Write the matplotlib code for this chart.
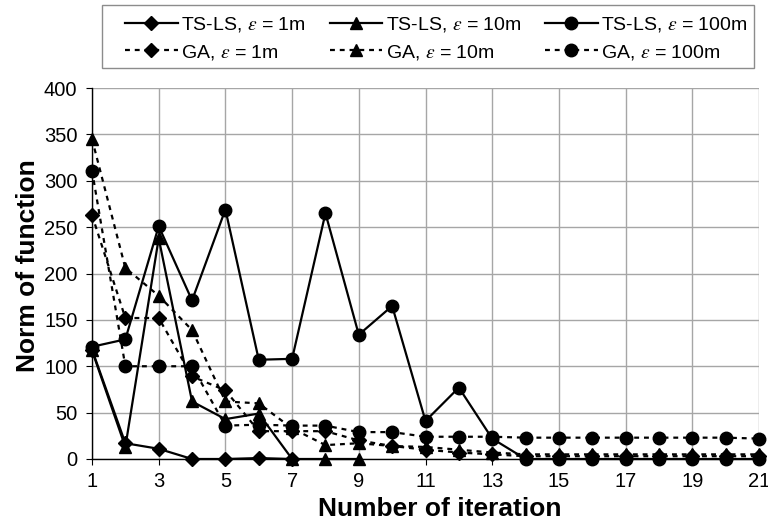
import matplotlib
matplotlib.use("Agg")
import matplotlib.pyplot as plt
from matplotlib.patches import Rectangle

plt.rcParams['font.family'] = ['Liberation Sans', 'DejaVu Sans']
plt.rcParams['mathtext.fontset'] = 'stix'

iters = list(range(1, 22))

ts_1m = [118, 17, 11, 0, 0, 1, 0]
ts_10m = [117, 13, 238, 62, 43, 49, 0, 0, 0]
ts_100m = [121, 129, 251, 171, 269, 107, 108, 265, 134, 165, 41, 77, 22,
           0, 0, 0, 0, 0, 0, 0, 0]
ga_1m = [263, 152, 152, 89, 74, 30, 30, 30, 20, 14, 10, 7, 5,
         3, 3, 3, 3, 3, 3, 3, 3]
ga_10m = [345, 206, 176, 139, 62, 60, 33, 15, 17, 14, 13, 10, 7,
          5, 5, 5, 5, 5, 5, 5, 5]
ga_100m = [311, 100, 100, 100, 36, 37, 36, 36, 29, 29, 24, 24, 24,
           23, 23, 23, 23, 23, 23, 23, 22]

labels_ts = [r'TS-LS, $\varepsilon$ = 1m', r'TS-LS, $\varepsilon$ = 10m', r'TS-LS, $\varepsilon$ = 100m']
labels_ga = [r'GA, $\varepsilon$ = 1m', r'GA, $\varepsilon$ = 10m', r'GA, $\varepsilon$ = 100m']

W, H = 768, 524
fig = plt.figure(figsize=(W/100, H/100), dpi=100)
ax = fig.add_axes([92/W, 1-459/H, (759-92)/W, (459-88)/H])

lw = 1.6
dash = (0, (2.2, 2.2))
ms = {'D': 7.5, '^': 9, 'o': 9}

h = {}
series = [
    ('ts1', ts_1m, 'D', '-', labels_ts[0]),
    ('ts10', ts_10m, '^', '-', labels_ts[1]),
    ('ts100', ts_100m, 'o', '-', labels_ts[2]),
    ('ga1', ga_1m, 'D', dash, labels_ga[0]),
    ('ga10', ga_10m, '^', dash, labels_ga[1]),
    ('ga100', ga_100m, 'o', dash, labels_ga[2]),
]
for key, vals, mk, ls, lab in series:
    ln, = ax.plot(iters[:len(vals)], vals, color='black', linestyle=ls, lw=lw,
                  marker=mk, markersize=ms[mk], markerfacecolor='black',
                  markeredgecolor='black', label=lab, clip_on=False, zorder=3)
    h[key] = ln

ax.set_xlim(1, 21)
ax.set_ylim(0, 400)
ax.set_xticks(range(1, 22, 2))
ax.set_yticks(range(0, 401, 50))
ax.grid(True, color='#a6a6a6', lw=1.0, zorder=0)
ax.set_axisbelow(True)
for s in ['top', 'right']:
    ax.spines[s].set_visible(False)
for s in ['left', 'bottom']:
    ax.spines[s].set_color('black')
    ax.spines[s].set_linewidth(1.0)
ax.tick_params(axis='both', labelsize=14.5, direction='out', length=4.5, color='black')
ax.tick_params(axis='y', pad=6)
ax.tick_params(axis='x', pad=5)
ax.set_xlabel('Number of iteration', fontsize=19, fontweight='bold')
ax.set_ylabel('Norm of function', fontsize=19, fontweight='bold')
ax.xaxis.set_label_coords((440-92)/667, (459-497)/371)
ax.yaxis.set_label_coords((40-92)/667, (459-266)/371)

# legend frame
fig.patches.append(Rectangle((102/W, 1-68/H), (754-102)/W, 63/H, transform=fig.transFigure,
                             facecolor='white', edgecolor='#8c8c8c', lw=1.0, zorder=0))

handles = [h['ts1'], h['ga1'], h['ts10'], h['ga10'], h['ts100'], h['ga100']]
leg = fig.legend(handles=handles, labels=[x.get_label() for x in handles], ncol=3,
                 loc='upper left', bbox_to_anchor=(125/W, 0, (748-125)/W, 1-15/H),
                 mode='expand', fontsize=14, frameon=False,
                 handlelength=2.7, handletextpad=0.2,
                 columnspacing=0.4, borderaxespad=0, labelspacing=0.45,
                 borderpad=0)

fig.savefig('out.png', dpi=100)
